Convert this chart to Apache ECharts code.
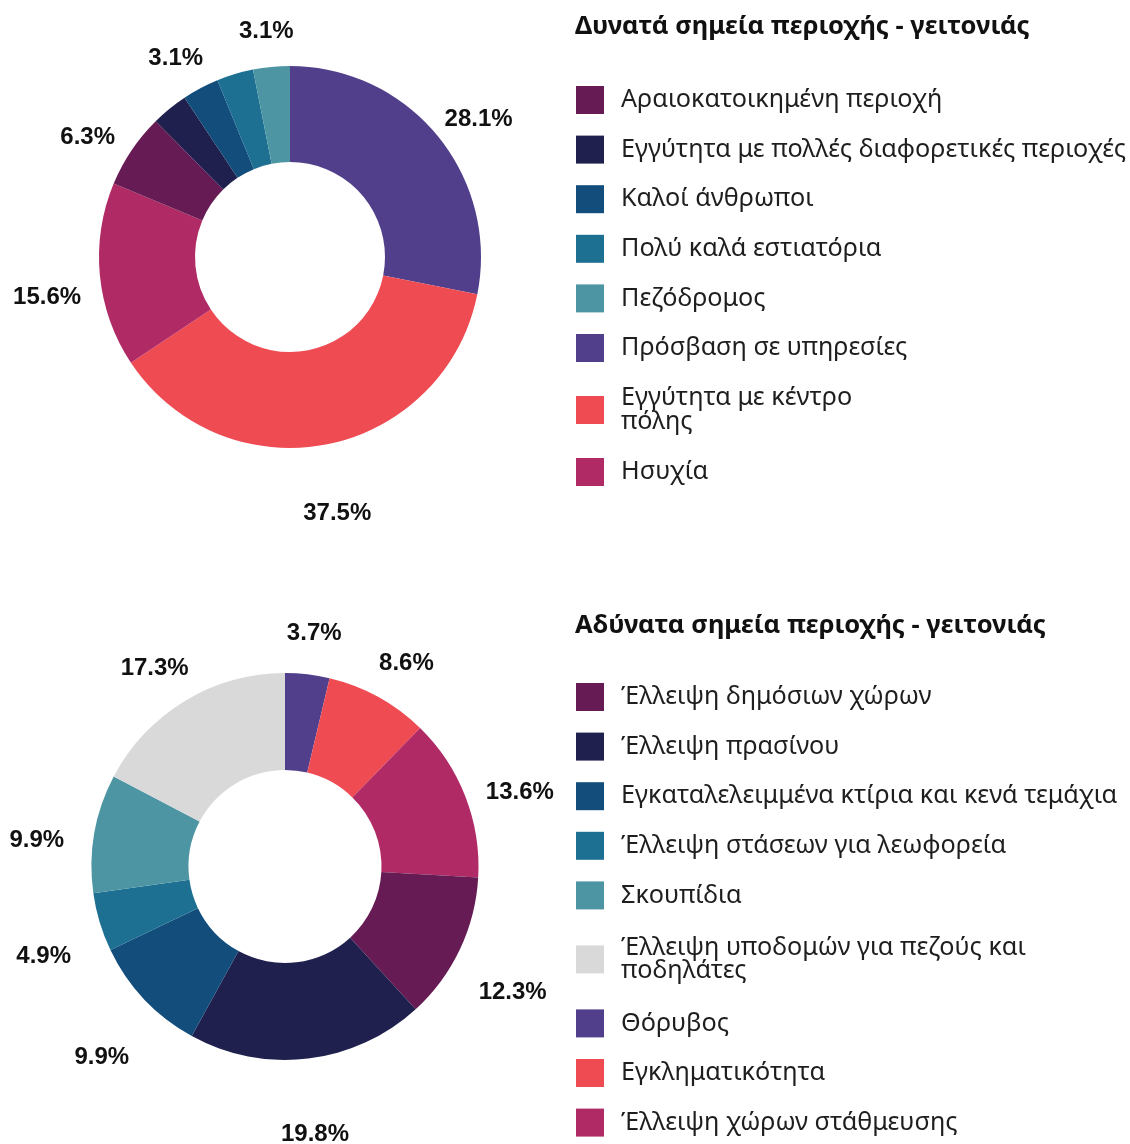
<!DOCTYPE html>
<html>
<head>
<meta charset="utf-8">
<script src="https://cdn.jsdelivr.net/npm/echarts@6/dist/echarts.min.js"></script>
<style>
  html, body { margin: 0; padding: 0; background: #ffffff; }
  #chart { width: 1130px; height: 1144px; }
</style>
</head>
<body>
<div id="chart"></div>
<script>
// ---------- Data: strengths (top chart) ----------
const topTitle = 'Δυνατά σημεία περιοχής - γειτονιάς';
const topNames = [
  'Πρόσβαση σε υπηρεσίες',
  'Εγγύτητα με κέντρο πόλης',
  'Ησυχία',
  'Αραιοκατοικημένη περιοχή',
  'Εγγύτητα με πολλές διαφορετικές περιοχές',
  'Καλοί άνθρωποι',
  'Πολύ καλά εστιατόρια',
  'Πεζόδρομος'
];
const topValues = [28.1, 37.5, 15.6, 6.3, 3.1, 3.1, 3.1, 3.1];
const topLegendOrder = [
  'Αραιοκατοικημένη περιοχή',
  'Εγγύτητα με πολλές διαφορετικές περιοχές',
  'Καλοί άνθρωποι',
  'Πολύ καλά εστιατόρια',
  'Πεζόδρομος',
  'Πρόσβαση σε υπηρεσίες',
  'Εγγύτητα με κέντρο πόλης',
  'Ησυχία'
];
const topHiddenLabels = ['Εγγύτητα με πολλές διαφορετικές περιοχές', 'Πολύ καλά εστιατόρια'];

// ---------- Data: weaknesses (bottom chart) ----------
const bottomTitle = 'Αδύνατα σημεία περιοχής - γειτονιάς';
const bottomNames = [
  'Θόρυβος',
  'Εγκληματικότητα',
  'Έλλειψη χώρων στάθμευσης',
  'Έλλειψη δημόσιων χώρων',
  'Έλλειψη πρασίνου',
  'Εγκαταλελειμμένα κτίρια και κενά τεμάχια',
  'Έλλειψη στάσεων για λεωφορεία',
  'Σκουπίδια',
  'Έλλειψη υποδομών για πεζούς και ποδηλάτες'
];
const bottomValues = [3.7, 8.6, 13.6, 12.3, 19.8, 9.9, 4.9, 9.9, 17.3];
const bottomLegendOrder = [
  'Έλλειψη δημόσιων χώρων',
  'Έλλειψη πρασίνου',
  'Εγκαταλελειμμένα κτίρια και κενά τεμάχια',
  'Έλλειψη στάσεων για λεωφορεία',
  'Σκουπίδια',
  'Έλλειψη υποδομών για πεζούς και ποδηλάτες',
  'Θόρυβος',
  'Εγκληματικότητα',
  'Έλλειψη χώρων στάθμευσης'
];

// ---------- Colours ----------
const colorMap = {
  'Αραιοκατοικημένη περιοχή': '#661b54',
  'Εγγύτητα με πολλές διαφορετικές περιοχές': '#20204e',
  'Καλοί άνθρωποι': '#124d7c',
  'Πολύ καλά εστιατόρια': '#1d7092',
  'Πεζόδρομος': '#4e95a3',
  'Πρόσβαση σε υπηρεσίες': '#523f8c',
  'Εγγύτητα με κέντρο πόλης': '#ef4b53',
  'Ησυχία': '#b02b65',
  'Έλλειψη δημόσιων χώρων': '#661b54',
  'Έλλειψη πρασίνου': '#20204e',
  'Εγκαταλελειμμένα κτίρια και κενά τεμάχια': '#124d7c',
  'Έλλειψη στάσεων για λεωφορεία': '#1d7092',
  'Σκουπίδια': '#4e95a3',
  'Έλλειψη υποδομών για πεζούς και ποδηλάτες': '#d9d9d9',
  'Θόρυβος': '#523f8c',
  'Εγκληματικότητα': '#ef4b53',
  'Έλλειψη χώρων στάθμευσης': '#b02b65'
};

// legend line wrapping as in the reference
const legendWrap = {
  'Εγγύτητα με κέντρο πόλης': 'Εγγύτητα με κέντρο\nπόλης',
  'Έλλειψη υποδομών για πεζούς και ποδηλάτες': 'Έλλειψη υποδομών για πεζούς και\nποδηλάτες'
};

const labelFont = { fontFamily: 'Liberation Sans', fontWeight: 'bold', fontSize: 24, color: '#111111' };

function mainData(names, values) {
  return names.map((n, i) => ({ name: n, value: values[i], itemStyle: { color: colorMap[n] } }));
}
function labelData(names, values, hidden) {
  return names.map((n, i) => ({
    name: n, value: values[i],
    label: { show: !(hidden || []).includes(n) }
  }));
}
function legendItems(order, wrapStyle) {
  return order.map(n => legendWrap[n] ? { name: n, textStyle: wrapStyle } : { name: n });
}

function donut(center, radius, names, values) {
  return {
    type: 'pie', center: center, radius: radius, startAngle: 90, clockwise: true,
    avoidLabelOverlap: false, silent: true,
    label: { show: false }, labelLine: { show: false },
    emphasis: { disabled: true },
    data: mainData(names, values)
  };
}
function labelRing(center, radius, names, values, hidden) {
  return {
    type: 'pie', center: center, radius: radius, startAngle: 90, clockwise: true,
    avoidLabelOverlap: false, silent: true,
    itemStyle: { color: 'rgba(0,0,0,0)' },
    label: Object.assign({ show: true, position: 'inside', formatter: '{c}%' }, labelFont),
    labelLine: { show: false },
    emphasis: { disabled: true },
    data: labelData(names, values, hidden)
  };
}

const legendCommon = {
  orient: 'vertical', left: 576, padding: 0,
  icon: 'rect', itemWidth: 28, itemHeight: 28, itemGap: 21.6,
  selectedMode: false,
  textStyle: { fontFamily: 'Noto Sans', fontSize: 25.2, color: '#1e1e1e', lineHeight: 20, padding: [0, 0, 0, 12] },
  formatter: name => legendWrap[name] || name
};

const titleCommon = {
  left: 575, padding: 0,
  textStyle: { fontFamily: 'Noto Sans', fontWeight: 'bold', fontSize: 25.5, color: '#111111' }
};

const chart = echarts.init(document.getElementById('chart'), null, { renderer: 'canvas' });
chart.setOption({
  backgroundColor: '#ffffff',
  animation: false,
  title: [
    Object.assign({ text: topTitle, top: 13.5 }, titleCommon),
    Object.assign({ text: bottomTitle, top: 612.5 }, titleCommon)
  ],
  legend: [
    Object.assign({ top: 86, data: legendItems(topLegendOrder, { lineHeight: 23.5, padding: [5.8, 0, 0, 12] }) }, legendCommon),
    Object.assign({ top: 683, data: legendItems(bottomLegendOrder, { lineHeight: 23.5, padding: [9.8, 0, 0, 12] }) }, legendCommon)
  ],
  series: [
    donut([290, 257], [95, 191], topNames, topValues),
    donut([285, 866.5], [96.5, 193.5], bottomNames, bottomValues),
    labelRing([290, 274], [231, 251], topNames, topValues, topHiddenLabels),
    labelRing([285, 884], [239, 259], bottomNames, bottomValues, [])
  ]
});
</script>
</body>
</html>
